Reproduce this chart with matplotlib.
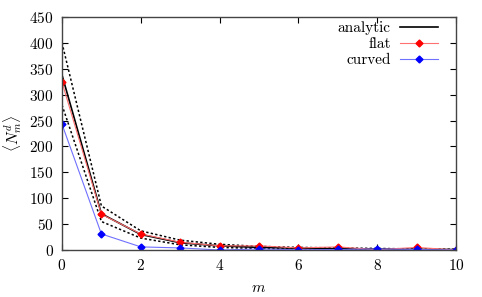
import matplotlib
matplotlib.use("Agg")
import matplotlib.pyplot as plt

m = [0, 1, 2, 3, 4, 5, 6, 7, 8, 9, 10]
analytic = [338, 70, 30, 14, 8, 5, 3.5, 2.5, 1.8, 1.2, 0.8]
analytic_upper = [400, 85, 37, 19, 11, 7, 5, 4, 3, 2, 1.5]
analytic_lower = [280, 55, 23, 10, 5, 3, 2, 1.5, 1, 0.5, 0.3]
flat = [324, 69, 31, 15, 8, 8, 4, 6, 0.5, 5, 0]
curved = [243, 31, 6, 4, 0, 2, 0.5, 1, 2, 1, 0]

xticks = [0, 2, 4, 6, 8, 10]
yticks = [0, 50, 100, 150, 200, 250, 300, 350, 400, 450]

plt.rcParams['font.family'] = 'serif'
plt.rcParams['font.serif'] = ['cmr10', 'DejaVu Serif']
plt.rcParams['mathtext.fontset'] = 'cm'
plt.rcParams['axes.formatter.use_mathtext'] = True

fig = plt.figure(figsize=(4.82, 2.97), dpi=100)
ax = fig.add_axes([62/482, 47/297, (456-62)/482, (250-17)/297])

ax.plot(m, analytic_upper, color='black', linestyle=(0, (1.5, 1.5)), linewidth=1.1)
ax.plot(m, analytic_lower, color='black', linestyle=(0, (1.5, 1.5)), linewidth=1.1)
ax.plot(m, analytic, color='black', linewidth=1.2, label='analytic')
ax.plot(m, flat, color='#ff7070', linewidth=0.8, marker='D', markersize=3.5,
        markerfacecolor='red', markeredgecolor='red', label='flat')
ax.plot(m, curved, color='#7070ff', linewidth=0.8, marker='D', markersize=3.5,
        markerfacecolor='blue', markeredgecolor='blue', label='curved')

ax.set_xlim(0, 10)
ax.set_ylim(0, 450)
ax.set_xticks(xticks)
ax.set_yticks(yticks)
ax.tick_params(direction='in', top=True, right=True, labelsize=11, length=4, width=0.8)
ax.tick_params(axis='x', pad=6)
ax.tick_params(axis='y', pad=6)
for s in ax.spines.values():
    s.set_color('#444444')
    s.set_linewidth(1.0)

ax.set_xlabel('$m$', fontsize=11)
ax.set_ylabel(r'$\langle N_m^d \rangle$', fontsize=11)
ax.xaxis.set_label_coords(0.5, -(281 - 250) / 233)
ax.yaxis.set_label_coords((24 - 62) / 394, 0.5)

leg = ax.legend(loc='upper right', bbox_to_anchor=((438-62)/394, 1 - (21-17)/233),
                frameon=False, markerfirst=False, numpoints=1,
                fontsize=11, handlelength=2.5, handletextpad=0.6, labelspacing=0.15,
                borderaxespad=0, borderpad=0)
for t in leg.get_texts():
    t.set_ha('right')

fig.savefig('out.png', dpi=100)
